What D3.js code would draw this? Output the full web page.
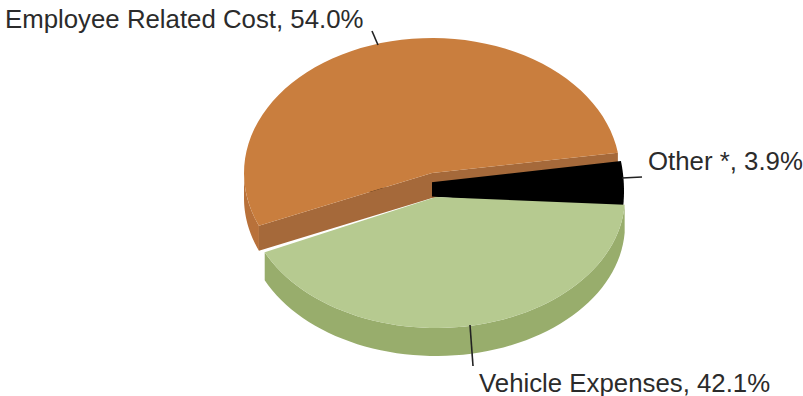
<!DOCTYPE html>
<html><head><meta charset="utf-8">
<script src="https://cdn.jsdelivr.net/npm/d3@7"></script>
<style>html,body{margin:0;padding:0;background:#fff}svg{display:block}text{font-family:"Liberation Sans",Arial,sans-serif;fill:#2b2b2b}</style>
</head><body><svg id="c" width="803" height="396"></svg>
<script>
const categories=["Employee Related Cost","Other *","Vehicle Expenses"];
const values=[54.0,3.9,42.1];
const topColors=["#C97E3E","#000000","#B6CA90"];
const wallColors=["#A5693A","#000000","#98AD6C"];
const svg=d3.select("#c");
const start=247*Math.PI/180;
const arcs=d3.pie().sort(null).startAngle(start).endAngle(start+2*Math.PI)(values);
const rad=Math.PI/180;
const geom=[{cx:432,cy:173,rx:188,ry:135,d:25,rot:0},{cx:353,cy:191,rx:271,ry:200,d:0,rot:0},{cx:436,cy:197,rx:189,ry:131,d:28,rot:-2*rad}];
const pt=(g,a,dy=0)=>[g.cx+g.rx*Math.sin(a+g.rot),g.cy-g.ry*Math.cos(a+g.rot)+dy];
const line=d3.line();
const sample=(a0,a1)=>d3.range(61).map(i=>a0+(a1-a0)*i/60);
function sector(i){const g=geom[i],p=arcs[i];
  return line([[g.cx,g.cy],...sample(p.startAngle,p.endAngle).map(a=>pt(g,a))])+"Z";}
function wall(i,a0,a1){const g=geom[i],s=sample(a0,a1);
  return line([...s.map(a=>pt(g,a)),...s.slice().reverse().map(a=>pt(g,a,g.d))])+"Z";}
function cut(i,a){const g=geom[i];
  return line([[g.cx,g.cy],pt(g,a),pt(g,a,g.d),[g.cx,g.cy+g.d]])+"Z";}
const O=arcs[0],B=arcs[1],G=arcs[2];
svg.append("path").attr("d",wall(0,O.startAngle,1.5*Math.PI)).attr("fill","#B8713A");
svg.append("path").attr("d",cut(0,O.endAngle)).attr("fill",wallColors[0]);
svg.append("path").attr("d",sector(1)).attr("fill",topColors[1]);
svg.append("path").attr("d",cut(0,O.startAngle)).attr("fill",wallColors[0]);
svg.append("path").attr("d",sector(0)).attr("fill",topColors[0]);
svg.append("path").attr("d",wall(2,G.startAngle,G.endAngle)).attr("fill",wallColors[2]);
svg.append("path").attr("d",sector(2)).attr("fill",topColors[2]);
const labels=[{i:0,x:5,y:28,l:[[372,31],[378,45]]},{i:1,x:648,y:170,l:[[622,178],[642,177]]},{i:2,x:479,y:392,l:[[470,325],[473,366]]}];
labels.forEach(d=>{
  svg.append("path").attr("d",line(d.l)).attr("stroke","#222").attr("stroke-width",1.6).attr("fill","none");
  svg.append("text").attr("x",d.x).attr("y",d.y).attr("font-size",25.8).text(`${categories[d.i]}, ${values[d.i].toFixed(1)}%`);
});
</script></body></html>
